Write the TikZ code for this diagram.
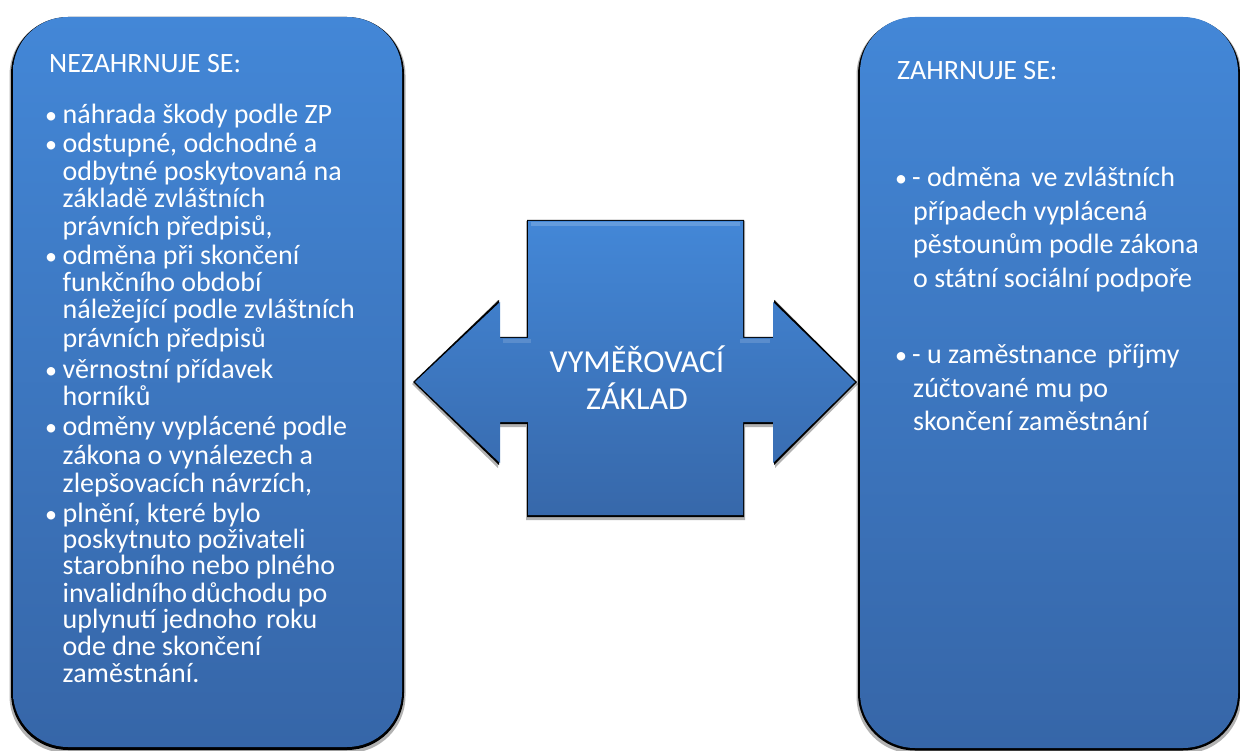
\documentclass[tikz,border=0pt]{standalone}
\usepackage{fontspec}
\setmainfont{Carlito}
\definecolor{boxtop}{RGB}{67,135,215}
\definecolor{boxbot}{RGB}{54,102,168}
\definecolor{arrtop}{RGB}{67,135,215}
\definecolor{arrbot}{RGB}{55,104,170}
\begin{document}
\begin{tikzpicture}[x=1pt,y=-1pt,
  box/.style={rectangle, rounded corners=55pt, top color=boxtop, bottom color=boxbot, draw=none, inner sep=0pt},
  shad/.style={rectangle, rounded corners=57pt, fill=black, inner sep=0pt},
  txt/.style={anchor=base west, inner sep=0pt, text=white, font=\fontsize{28}{28}\selectfont},
  ctxt/.style={anchor=base, inner sep=0pt, text=white, font=\fontsize{32}{32}\selectfont},
  bul/.style={anchor=base, inner sep=0pt, text=white, font=\fontsize{24}{24}\selectfont},
]
\useasboundingbox (0,0) rectangle (1240,751);

% left box
\node[shad, opacity=0.3, minimum width=396pt, minimum height=735pt] (lsh2) at (207.5,385.5) {};
\node[shad, minimum width=393pt, minimum height=733pt] (lsh) at (207.5,383.5) {};
\node[box, minimum width=389pt, minimum height=730pt] (left) at (207.5,382) {};

% right box
\node[shad, opacity=0.3, minimum width=385pt, minimum height=735pt] (rsh2) at (1049,386) {};
\node[shad, minimum width=382pt, minimum height=733pt] (rsh) at (1049,384) {};
\node[box, minimum width=378pt, minimum height=731pt] (right) at (1049,382.5) {};

% double arrow
\fill[black, opacity=0.3] (526,221) -- (745,221) -- (745,338) -- (775,338) -- (775,300) -- (858,384) -- (775,468) -- (775,427) -- (745,427) -- (745,520) -- (526,520) -- (526,427) -- (498,427) -- (498,468) -- (412,384) -- (498,300) -- (498,338) -- (526,338) -- cycle;
\fill[black] (527,220) -- (744,220) -- (744,337) -- (774,337) -- (774,300) -- (857,382) -- (774,465) -- (774,424) -- (744,424) -- (744,517) -- (527,517) -- (527,424) -- (499,424) -- (499,465) -- (413,382) -- (499,300) -- (499,337) -- (527,337) -- cycle;
\path[top color=arrtop, bottom color=arrbot] (528,221) -- (743,221) -- (743,338) -- (773,338) -- (773,302) -- (855,382) -- (773,463) -- (773,422) -- (743,422) -- (743,515) -- (528,515) -- (528,422) -- (500,422) -- (500,463) -- (415,382) -- (500,302) -- (500,338) -- (528,338) -- cycle;
\draw[white, opacity=0.18, line width=4pt] (531,224) -- (740,224);
\draw[white, opacity=0.15, line width=4pt] (503,341) -- (531,341);
\draw[white, opacity=0.15, line width=4pt] (740,341) -- (770,341);

\node[ctxt] (c1) at (637,372) {VYMĚŘOVACÍ};
\node[ctxt] (c2) at (637,409) {ZÁKLAD};

% left text
\node[txt] (lh) at (49,73) {NEZAHRNUJE SE:};
\node[bul] (lb1) at (51,124) {•};
\node[bul] (lb2) at (51,153) {•};
\node[bul] (lb3) at (51,265) {•};
\node[bul] (lb4) at (51,378) {•};
\node[bul] (lb5) at (51,435) {•};
\node[bul] (lb6) at (51,522) {•};
\node[txt] (l1) at (62.5,124) {náhrada škody podle ZP};
\node[txt] (l2) at (62.5,153) {odstupné, odchodné a};
\node[txt] (l3) at (62.5,181) {odbytné poskytovaná na};
\node[txt] (l4) at (62.5,208) {základě zvláštních};
\node[txt] (l5) at (62.5,236) {právních předpisů,};
\node[txt] (l6) at (62.5,265) {odměna při skončení};
\node[txt] (l7) at (62.5,292) {funkčního období};
\node[txt] (l8) at (62.5,319) {náležející podle zvláštních};
\node[txt] (l9) at (62.5,348) {právních předpisů};
\node[txt] (l10) at (62.5,378) {věrnostní přídavek};
\node[txt] (l11) at (62.5,405) {horníků};
\node[txt] (l12) at (62.5,435) {odměny vyplácené podle};
\node[txt] (l13) at (62.5,464) {zákona o vynálezech a};
\node[txt] (l14) at (62.5,492) {zlepšovacích návrzích,};
\node[txt] (l15) at (62.5,522) {plnění, které bylo};
\node[txt] (l16) at (62.5,548) {poskytnuto poživateli};
\node[txt] (l17) at (62.5,574) {starobního nebo plného};
\node[txt] (l18) at (62.5,602) {invalidního\hspace{-2pt} důchodu po};
\node[txt] (l19) at (62.5,628) {uplynutí jednoho\hspace{3pt} roku};
\node[txt] (l20) at (62.5,655) {ode dne skončení};
\node[txt] (l21) at (62.5,682) {zaměstnání.};

% right text
\node[txt] (rh) at (897,80) {ZAHRNUJE SE:};
\node[bul] (rb1) at (901,187) {•};
\node[bul] (rb2) at (901,363) {•};
\node[txt] (r1) at (912,187) {- odměna\hspace{4pt} ve zvláštních};
\node[txt] (r2) at (913,221) {případech vyplácená};
\node[txt] (r3) at (913,254) {pěstounům podle zákona};
\node[txt] (r4) at (913,288) {o státní sociální podpoře};
\node[txt] (r5) at (912,363) {- u zaměstnance\hspace{4pt} příjmy};
\node[txt] (r6) at (913,397) {zúčtované mu po};
\node[txt] (r7) at (913,430) {skončení zaměstnání};
\end{tikzpicture}
\end{document}
